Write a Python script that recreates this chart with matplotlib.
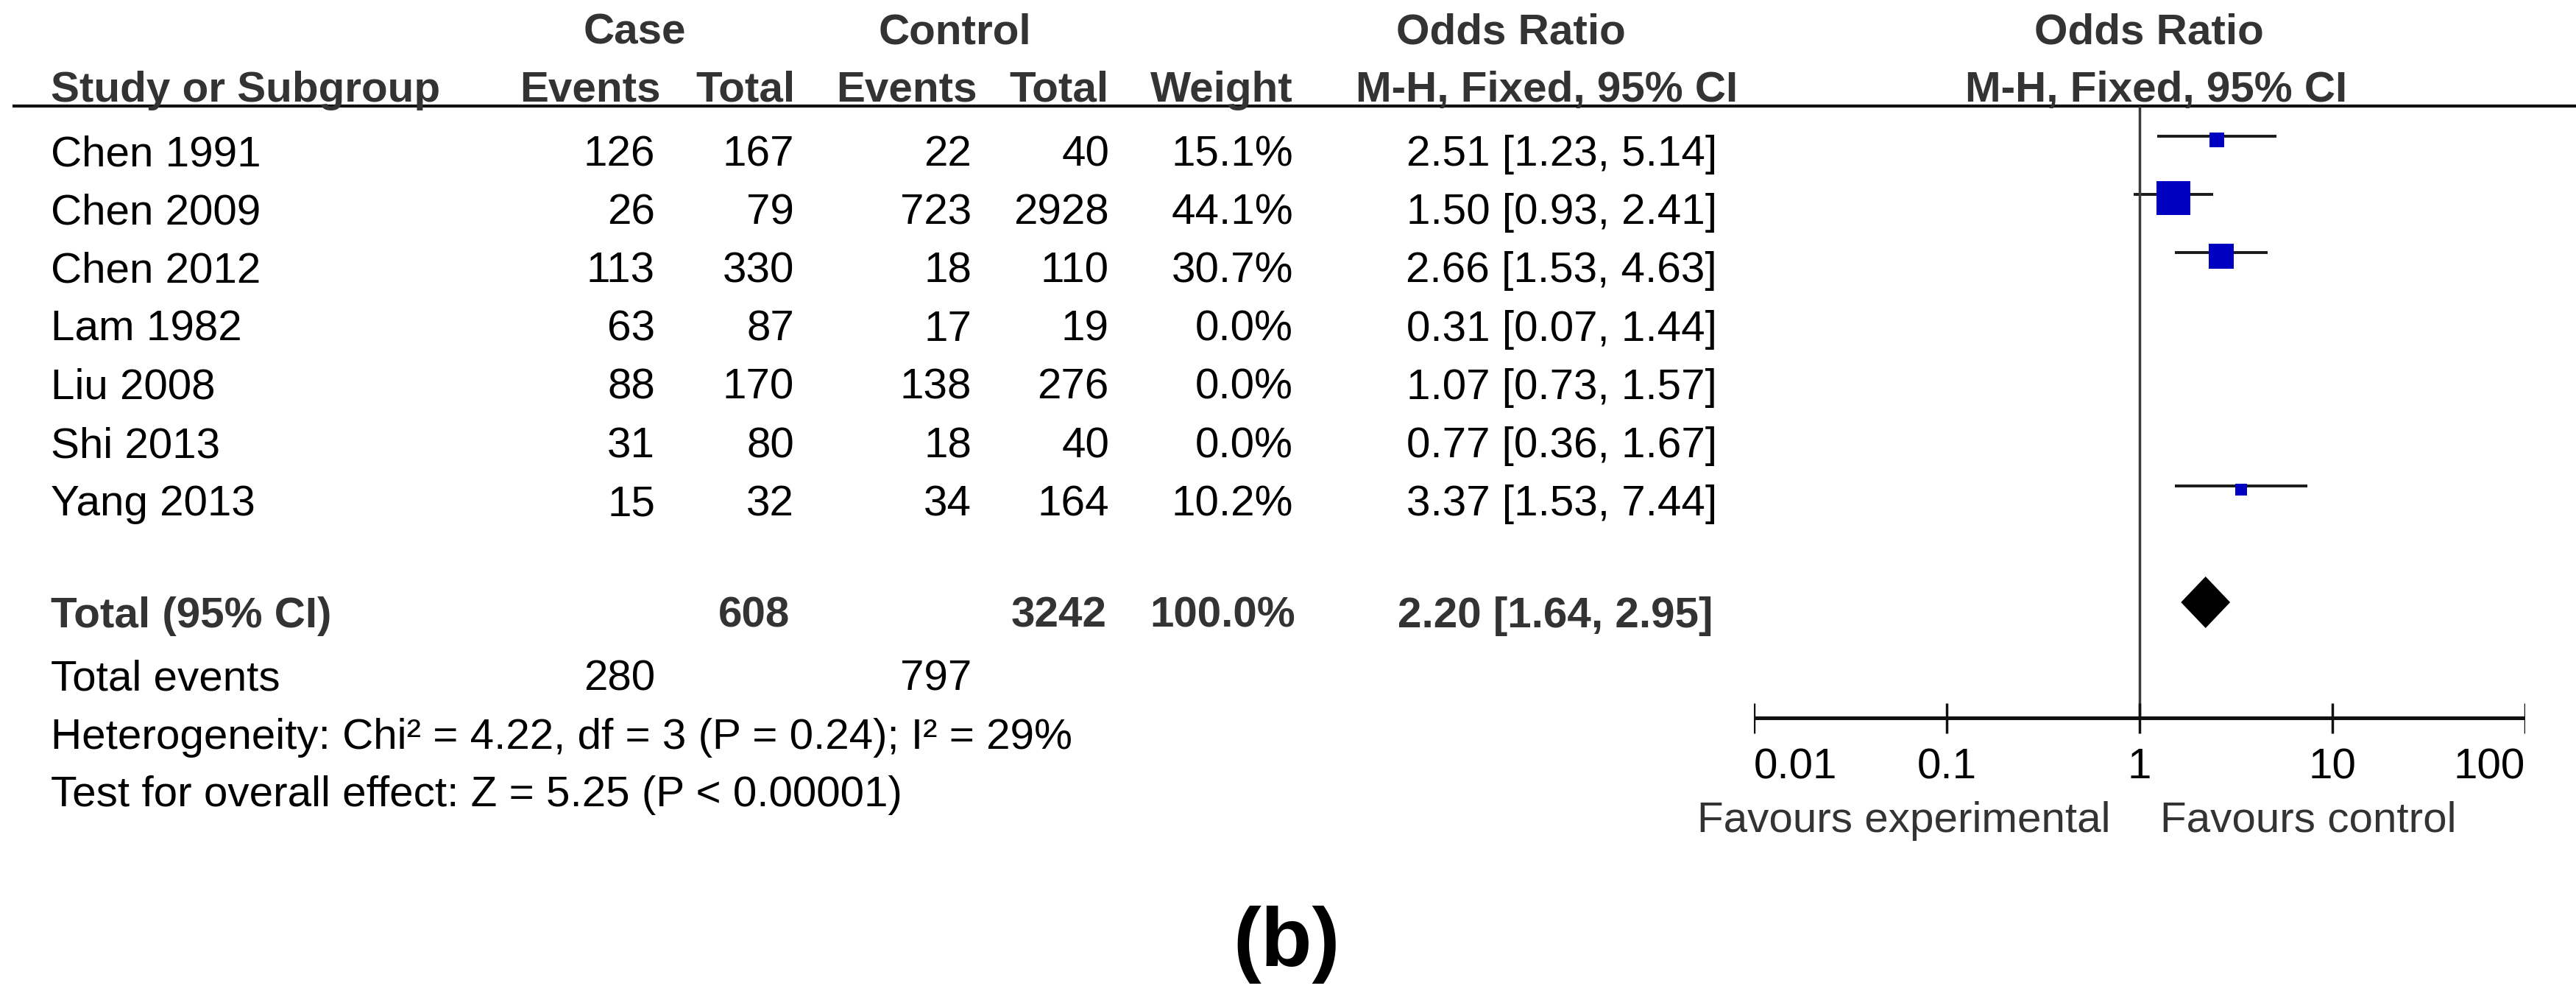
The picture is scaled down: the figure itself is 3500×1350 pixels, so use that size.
import matplotlib.pyplot as plt

# forest plot data
studies = ["Chen 1991", "Chen 2009", "Chen 2012", "Lam 1982", "Liu 2008", "Shi 2013", "Yang 2013"]
case_events = [126, 26, 113, 63, 88, 31, 15]
case_total = [167, 79, 330, 87, 170, 80, 32]
ctrl_events = [22, 723, 18, 17, 138, 18, 34]
ctrl_total = [40, 2928, 110, 19, 276, 40, 164]
weights = [15.1, 44.1, 30.7, 0.0, 0.0, 0.0, 10.2]
or_est = [2.51, 1.50, 2.66, 0.31, 1.07, 0.77, 3.37]
or_lo = [1.23, 0.93, 1.53, 0.07, 0.73, 0.36, 1.53]
or_hi = [5.14, 2.41, 4.63, 1.44, 1.57, 1.67, 7.44]

total_case = 608
total_ctrl = 3242
total_weight = 100.0
total_or = [2.20, 1.64, 2.95]
events_case = 280
events_ctrl = 797
heterogeneity = "Heterogeneity: Chi² = 4.22, df = 3 (P = 0.24); I² = 29%"
overall = "Test for overall effect: Z = 5.25 (P < 0.00001)"

ticks = [0.01, 0.1, 1, 10, 100]
tick_labels = ["0.01", "0.1", "1", "10", "100"]

FONT = "Liberation Sans"
FS = 42
HEAD = "#333333"
plt.rcParams["font.family"] = [FONT, "DejaVu Sans"]

fig = plt.figure(figsize=(35, 13.5), dpi=100)
ax = fig.add_axes([0, 0, 1, 1])
ax.set_xlim(0, 3500)
ax.set_ylim(1350, 0)
ax.axis("off")

# forest panel on a log scale, same vertical units as the table
fa = fig.add_axes([2383 / 3500, 0, (3431 - 2383) / 3500, 1])
fa.set_xscale("log")
fa.set_xlim(0.01, 100)
fa.set_ylim(1350, 0)
fa.axis("off")

# header
hb = dict(fontsize=FS, fontweight="bold", color=HEAD, va="baseline")
ax.text(862, 60, "Case", ha="center", **hb)
ax.text(1297, 60, "Control", ha="center", **hb)
ax.text(2053, 60, "Odds Ratio", ha="center", **hb)
ax.text(2920, 60, "Odds Ratio", ha="center", **hb)
ax.text(69, 138, "Study or Subgroup", ha="left", **hb)
for x, s in zip([898, 1081, 1328, 1507, 1757], ["Events", "Total", "Events", "Total", "Weight"]):
    ax.text(x, 138, s, ha="right", **hb)
ax.text(2102, 138, "M-H, Fixed, 95% CI", ha="center", **hb)
ax.text(2930, 138, "M-H, Fixed, 95% CI", ha="center", **hb)
ax.hlines(144, 17, 3500, color="#111111", lw=3.0)

# study rows
rb = dict(fontsize=FS, color="black", va="baseline")
for i, name in enumerate(studies):
    yb = 225 + 79.2 * i
    ax.text(69, yb, name, ha="left", **rb)
    ax.text(890, yb, str(case_events[i]), ha="right", **rb)
    ax.text(1079, yb, str(case_total[i]), ha="right", **rb)
    ax.text(1320, yb, str(ctrl_events[i]), ha="right", **rb)
    ax.text(1507, yb, str(ctrl_total[i]), ha="right", **rb)
    ax.text(1757, yb, f"{weights[i]:.1f}%", ha="right", **rb)
    ax.text(2333, yb, f"{or_est[i]:.2f} [{or_lo[i]:.2f}, {or_hi[i]:.2f}]", ha="right", **rb)
    if weights[i] > 0:
        fa.plot([or_lo[i], or_hi[i]], [yb - 40, yb - 40], color="#1a1a1a", lw=2.8, solid_capstyle="butt")
        side = 7 + 0.88 * weights[i]
        fa.plot([or_est[i]], [yb - 35], marker="s", ms=side * 0.72, color="#0000c0", mec="#0000c0", mew=0)

# totals
tb = 852
ax.text(69, tb, "Total (95% CI)", ha="left", **hb)
ax.text(1073, tb, str(total_case), ha="right", **hb)
ax.text(1504, tb, str(total_ctrl), ha="right", **hb)
ax.text(1760, tb, f"{total_weight:.1f}%", ha="right", **hb)
ax.text(2327, tb, f"{total_or[0]:.2f} [{total_or[1]:.2f}, {total_or[2]:.2f}]", ha="right", **hb)
fa.fill([total_or[1], total_or[0], total_or[2], total_or[0]],
        [tb - 34, tb - 69, tb - 34, tb + 1], color="black", lw=0)

ax.text(69, 938, "Total events", ha="left", **rb)
ax.text(890, 938, str(events_case), ha="right", **rb)
ax.text(1320, 938, str(events_ctrl), ha="right", **rb)
ax.text(69, 1017, heterogeneity, ha="left", **rb)
ax.text(69, 1095, overall, ha="left", **rb)

# null line and axis
fa.vlines(1, 144, 975, color="#3a3a3a", lw=2.5)
fa.hlines(975, ticks[0], ticks[-1], color="#111111", lw=3.6)
fa.vlines(ticks, 955, 996, color="#111111", lw=2.5)
for t, lab in zip(ticks, tick_labels):
    ha = "left" if t == ticks[0] else ("right" if t == ticks[-1] else "center")
    fa.text(t, 1057, lab, ha=ha, **rb)
ax.text(2867, 1130, "Favours experimental", ha="right", fontsize=FS, color=HEAD, va="baseline")
ax.text(2935, 1130, "Favours control", ha="left", fontsize=FS, color=HEAD, va="baseline")

ax.text(1748, 1312, "(b)", ha="center", va="baseline", fontsize=82, fontweight="bold", color="black")

fig.savefig("out.png", dpi=100, facecolor="white")
